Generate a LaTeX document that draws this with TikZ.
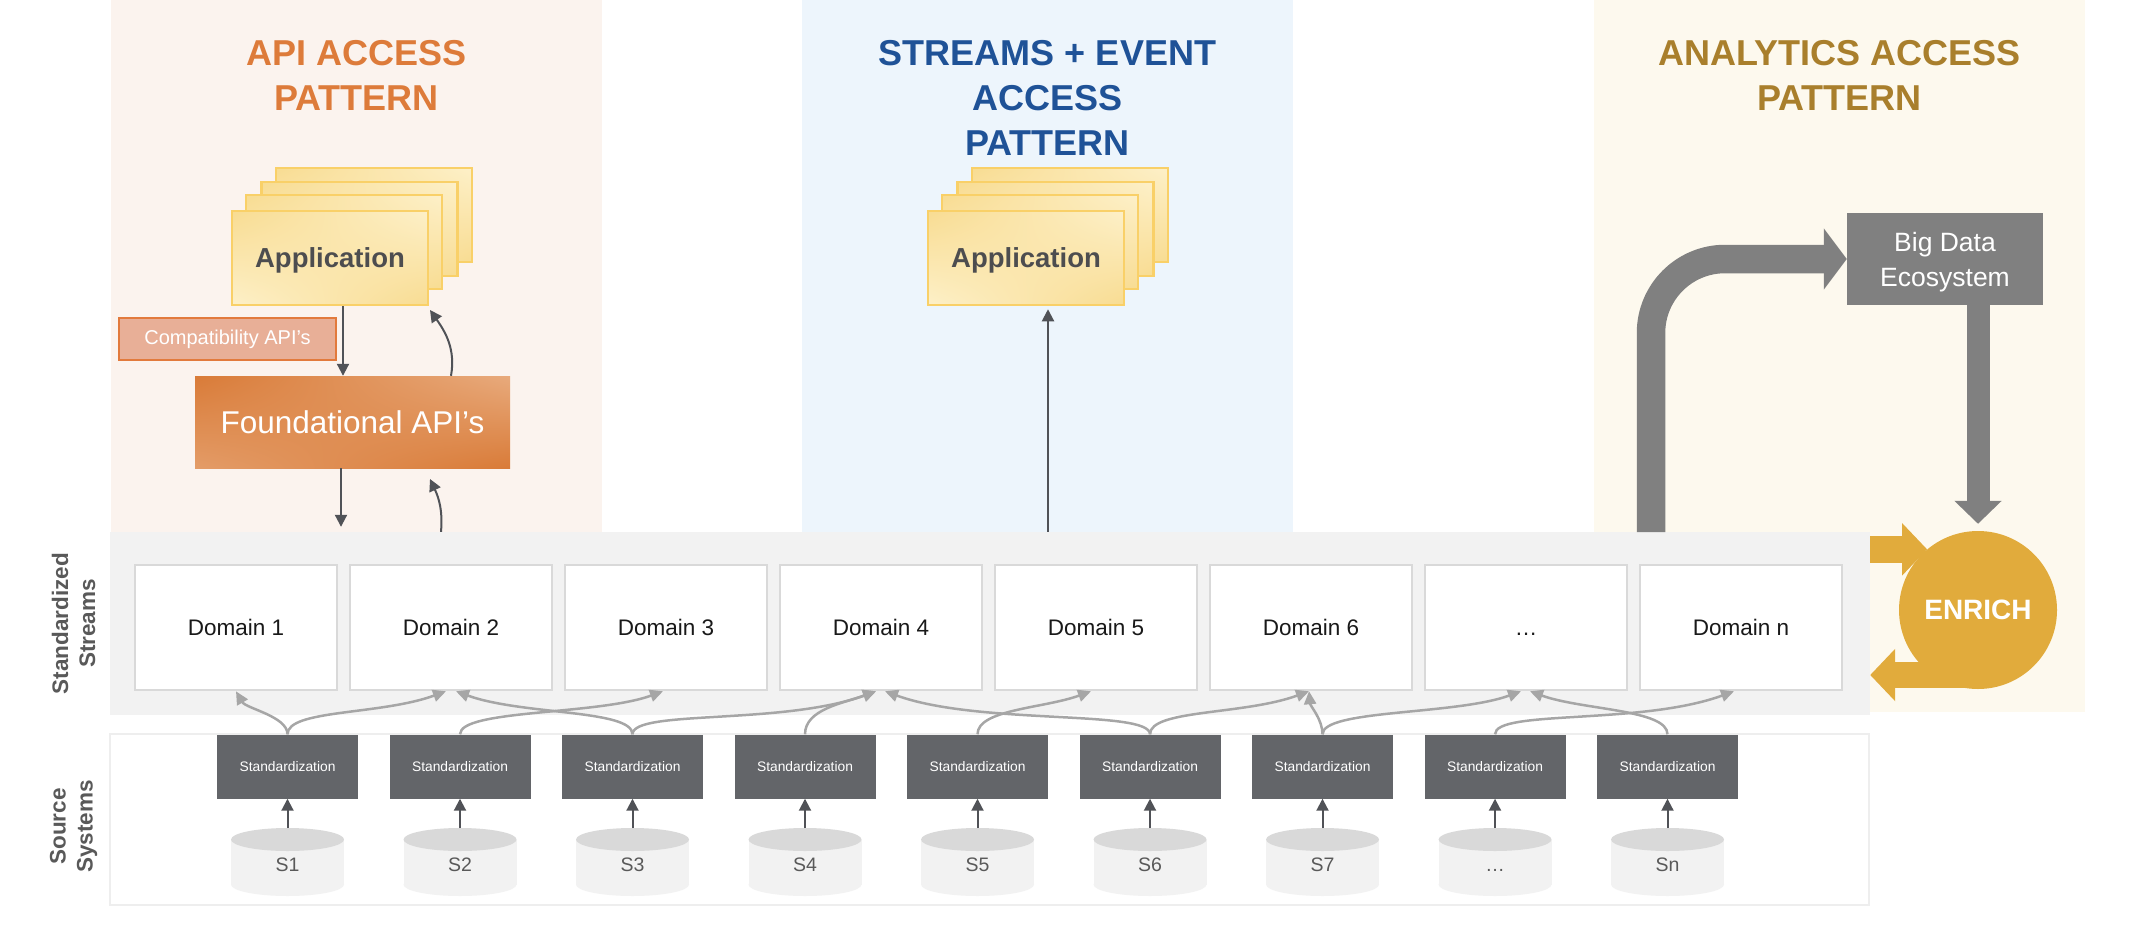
\documentclass[tikz,border=0pt]{standalone}
\usepackage{fontspec}
\setmainfont{Liberation Sans}
\usetikzlibrary{arrows.meta,shadings}

\definecolor{apibg}{HTML}{FBF3EE}
\definecolor{streambg}{HTML}{EDF5FC}
\definecolor{analyticsbg}{HTML}{FDF9EE}
\definecolor{bandgray}{HTML}{F2F2F2}
\definecolor{apiorange}{HTML}{DD7B3A}
\definecolor{streamblue}{HTML}{1F5297}
\definecolor{analyticsgold}{HTML}{A97F2C}
\definecolor{appfill}{HTML}{F8DC92}
\definecolor{applight}{HTML}{FDF0C8}
\definecolor{appborder}{HTML}{F9D068}
\definecolor{apptext}{HTML}{4D4D4F}
\definecolor{compatfill}{HTML}{E8AF97}
\definecolor{compatborder}{HTML}{E27A3C}
\definecolor{foundorange}{HTML}{D97B38}
\definecolor{foundlight}{HTML}{E8AA7C}
\definecolor{darkarrow}{HTML}{505257}
\definecolor{stdgray}{HTML}{636569}
\definecolor{flowgray}{HTML}{A6A6A6}
\definecolor{domainborder}{HTML}{D9D9D9}
\definecolor{cyltop}{HTML}{D9D9D9}
\definecolor{cylbody}{HTML}{F2F2F2}
\definecolor{srctext}{HTML}{595959}
\definecolor{sourceborder}{HTML}{EEEEEE}
\definecolor{bigdatagray}{HTML}{808080}
\definecolor{enrichgold}{HTML}{E1AB3C}
\definecolor{labelgray}{HTML}{595959}

\tikzset{
  patterntitle/.style={text=#1, font=\fontsize{36}{45}\selectfont\bfseries, align=center, inner sep=0pt},
  appbox/.style={draw=appborder, line width=2.5pt, minimum width=196pt, minimum height=94pt,
    upper left=appfill, upper right=applight, lower left=applight, lower right=appfill,
    text=apptext, font=\fontsize{27.5}{33}\selectfont\bfseries, text depth=0pt},
  compatbox/.style={fill=compatfill, draw=compatborder, line width=1.5pt, minimum width=217pt,
    minimum height=42pt, text=white, font=\fontsize{20}{24}\selectfont},
  foundbox/.style={minimum width=315pt, minimum height=92pt, upper left=foundorange,
    upper right=foundlight, lower left=foundlight!70!foundorange, lower right=foundorange,
    text=white, font=\fontsize{31.5}{38}\selectfont},
  darkarr/.style={draw=darkarrow, line width=2pt, -{Triangle[length=12pt,width=12pt]}},
  flow/.style={draw=flowgray, line width=2.5pt, -{Triangle[length=13pt,width=12pt]},
    out=90, out distance=25pt, in distance=70pt},
  flowR/.style={flow, in=200},
  flowL/.style={flow, in=-20},
  bandbox/.style={fill=bandgray, minimum width=1760pt, minimum height=183pt, inner sep=0pt},
  sourcebox/.style={fill=white, draw=sourceborder, line width=2pt, minimum width=1759pt,
    minimum height=171pt, inner sep=0pt},
  domainbox/.style={fill=white, draw=domainborder, line width=2.5pt, minimum width=202pt,
    minimum height=125pt, text=black!90, font=\fontsize{22.5}{27}\selectfont,
    text height=16.2pt, text depth=0pt},
  stdbox/.style={fill=stdgray, minimum width=141pt, minimum height=64pt, text=white,
    font=\fontsize{13.8}{16}\selectfont},
  srclabel/.style={text=srctext, font=\fontsize{19.5}{23}\selectfont, text height=14pt, text depth=0pt},
  bigdatabox/.style={fill=bigdatagray, minimum width=196pt, minimum height=92pt, text=white,
    align=center, font=\fontsize{26.5}{35}\selectfont, text depth=0pt},
  bigarrow/.style={draw=bigdatagray, line width=28.5pt, rounded corners=74pt,
    -{Triangle[length=23pt,width=60pt]}},
  bigdown/.style={draw=bigdatagray, line width=23pt, -{Triangle[length=23pt,width=46pt]}},
  enrichnode/.style={circle, fill=enrichgold, minimum size=158pt, inner sep=0pt, text=white,
    font=\fontsize{28}{34}\selectfont\bfseries},
  enricharrow/.style={draw=enrichgold, line width=26.5pt, -{Triangle[length=25pt,width=51pt]}},
  sidelabel/.style={text=labelgray, font=\fontsize{22.5}{27}\selectfont\bfseries, align=center,
    rotate=90}
}

\begin{document}
\begin{tikzpicture}[x=1pt, y=1pt]
    \useasboundingbox (0,0) rectangle (2154,-932);

    % Background panels of the three access patterns
    \fill[apibg] (111,0) rectangle (602,-532);
    \fill[streambg] (802,0) rectangle (1293,-532);
    \fill[analyticsbg] (1594,0) rectangle (2085,-712);

    \node[patterntitle=apiorange] (apititle) at (356.5,-75.5) {API ACCESS\\PATTERN};
    \node[patterntitle=streamblue] (streamtitle) at (1047.5,-98) {STREAMS + EVENT\\ACCESS\\PATTERN};
    \node[patterntitle=analyticsgold] (analyticstitle) at (1839.5,-75.5) {ANALYTICS ACCESS\\PATTERN};

    % Stacked applications
    \node[appbox] (apiback3) at (374,-215) {};
    \node[appbox] (apiback2) at (359.5,-229) {};
    \node[appbox] (apiback1) at (344,-242) {};
    \node[appbox] (apiapp) at (330,-258) {Application};

    \node[appbox] (streamback3) at (1070,-215) {};
    \node[appbox] (streamback2) at (1055.5,-229) {};
    \node[appbox] (streamback1) at (1040,-242) {};
    \node[appbox] (streamapp) at (1026,-258) {Application};

    \node[compatbox] (compat) at (227.5,-339) {Compatibility API’s};
    \node[foundbox] (found) at (352.5,-422) {Foundational API’s};

    % Standardized streams and source systems
    \node[bandbox] (band) at (990,-623.5) {};
    \node[sourcebox] (source) at (989.5,-819.5) {};

    \node[sidelabel] (streamslabel) at (73.5,-623.5) {Standardized\\Streams};
    \node[sidelabel] (sourcelabel) at (73.5,-826.5) {Source\\Systems};

    \foreach \i/\lbl in {1/Domain 1, 2/Domain 2, 3/Domain 3, 4/Domain 4, 5/Domain 5, 6/Domain 6, 7/…, 8/Domain n}
        \node[domainbox] (dom\i) at ({236+215*(\i-1)},-627.5) {\lbl};

    \foreach \i/\lbl in {1/S1, 2/S2, 3/S3, 4/S4, 5/S5, 6/S6, 7/S7, 8/…, 9/Sn} {
        \pgfmathsetmacro{\cx}{287.5+172.5*(\i-1)}
        \fill[cylbody] (\cx-56.5,-839.5) rectangle (\cx+56.5,-884.5);
        \fill[cylbody] (\cx,-884.5) ellipse (56.5 and 11.5);
        \fill[cyltop] (\cx,-839.5) ellipse (56.5 and 11.5);
        \node[srclabel] (src\i) at (\cx,-864) {\lbl};
        \coordinate (cyl\i) at (\cx,-828);
        \node[stdbox] (std\i) at (\cx,-766.5) {Standardization};
        \draw[darkarr] (cyl\i) -- (std\i.south);
    }

    % Standardization into the domain streams
    \draw[flow, in=-60, out distance=18pt, in distance=20pt] (std1.north) to (dom1.south);
    \draw[flowR] (std1.north) to ([xshift=-5pt]dom2.south);
    \draw[flowR] (std2.north) to ([xshift=-3pt]dom3.south);
    \draw[flowL] (std3.north) to ([xshift=5pt]dom2.south);
    \draw[flowR, in distance=100pt] (std3.north) to ([xshift=-5pt]dom4.south);
    \draw[flowR, in distance=35pt] (std4.north) to ([xshift=-5pt]dom4.south);
    \draw[flowR, in distance=50pt] (std5.north) to ([xshift=-5pt]dom5.south);
    \draw[flowL, in distance=100pt] (std6.north) to ([xshift=4pt]dom4.south);
    \draw[flowR] (std6.north) to ([xshift=-2pt]dom6.south);
    \draw[flow, in=-85, out distance=15pt, in distance=15pt] (std7.north) to ([xshift=-2pt]dom6.south);
    \draw[flowR] (std7.north) to ([xshift=-5pt]dom7.south);
    \draw[flowR, in distance=100pt] (std8.north) to ([xshift=-7pt]dom8.south);
    \draw[flowL, in distance=55pt] (std9.north) to ([xshift=4pt]dom7.south);

    % API access pattern
    \coordinate (apiuptip) at (430,-310);
    \coordinate (founduptip) at (430,-479);
    \draw[darkarr] (apiapp.south -| 343,0) -- (found.north -| 343,0);
    \draw[darkarr] (found.north -| 451,0) to[out=80, in=-55] (apiuptip);
    \draw[darkarr, shorten >=5pt] (found.south -| 341,0) -- (band.north -| 341,0);
    \draw[darkarr] (band.north -| 441,0) to[out=85, in=-65] (founduptip);

    % Streams + event access pattern
    \draw[darkarr, shorten >=3pt] (band.north -| 1048,0) -- (streamapp.south -| 1048,0);

    % Analytics access pattern
    \node[bigdatabox] (bigdata) at (1945,-259) {Big Data\\Ecosystem};
    \coordinate (bigup) at (1651,-532);
    \draw[bigarrow] (bigup) |- (bigdata.west);

    \coordinate (enrichlow) at (1978,-675);
    \draw[enricharrow] (enrichlow) -- (band.east |- enrichlow);
    \node[enrichnode] (enrich) at (1978,-610) {ENRICH};
    \draw[enricharrow] (band.east |- enrich.130) -- (enrich.130);
    \draw[bigdown, shorten >=7pt] (enrich.north |- bigdata.south) -- (enrich.north);
\end{tikzpicture}
\end{document}
